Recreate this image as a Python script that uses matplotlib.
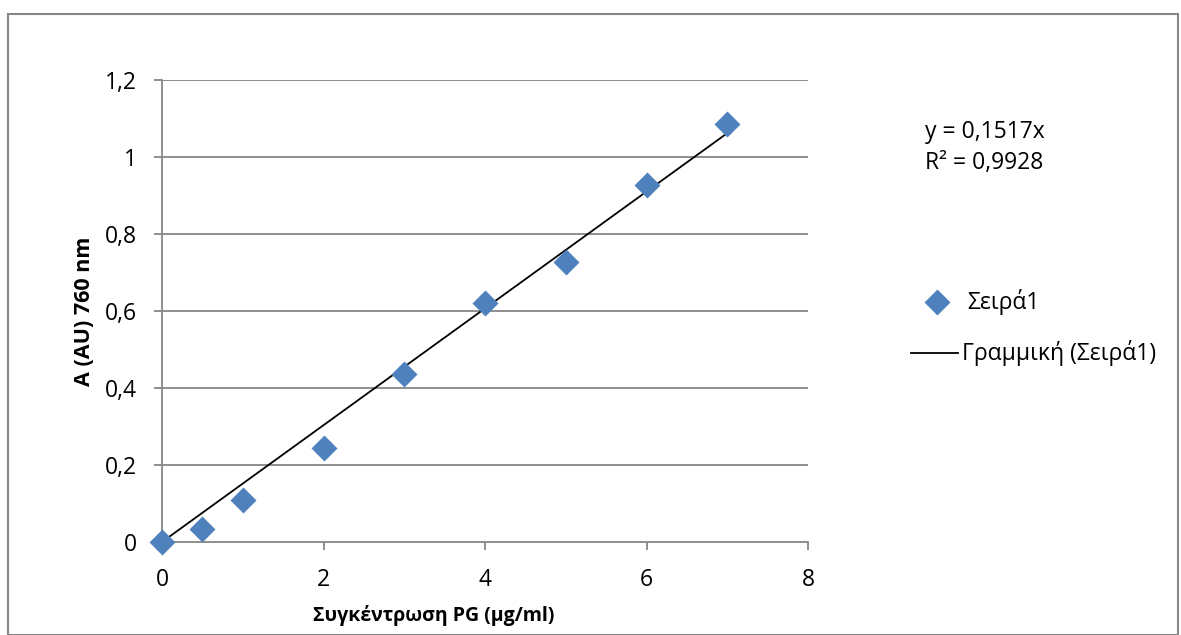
import matplotlib.pyplot as plt
import numpy as np
from matplotlib.patches import Rectangle
from matplotlib.lines import Line2D
from matplotlib.ticker import FuncFormatter

# data
conc = [0, 0.5, 1, 2, 3, 4, 5, 6, 7]
absorb = [0.0, 0.035, 0.11, 0.245, 0.437, 0.622, 0.728, 0.928, 1.085]
slope = 0.1517
r2 = 0.9928
xticks = [0, 2, 4, 6, 8]
yticks = [0, 0.2, 0.4, 0.6, 0.8, 1.0, 1.2]


def comma_num(v):
    return ('%g' % v).replace('.', ',')


plt.rcParams['font.family'] = ['Open Sans', 'DejaVu Sans']

W, H = 1181, 635
fig = plt.figure(figsize=(W / 100, H / 100), dpi=100)

# outer chart frame
fig.patches.append(Rectangle((8 / W, 0), (1178 - 8) / W, (H - 14) / H, transform=fig.transFigure,
                             fill=False, edgecolor='#868686', lw=1.5))

ax = fig.add_axes([162 / W, (H - 542) / H, (808 - 162) / W, (542 - 80) / H])
grid_c = '#868686'

for y in yticks[1:]:
    ax.axhline(y, color=grid_c, lw=1.3, zorder=0)

xfit = np.array([0, conc[-1]])
ax.plot(xfit, slope * xfit, color='black', lw=1.3, zorder=2)
ax.plot(conc, absorb, 'D', color='#4F81BD', ms=13, mec='none', zorder=3, clip_on=False)

ax.set_xlim(0, 8)
ax.set_ylim(0, 1.2)
ax.set_xticks(xticks)
ax.set_yticks(yticks)

comma = FuncFormatter(lambda v, p: comma_num(v))
ax.xaxis.set_major_formatter(comma)
ax.yaxis.set_major_formatter(comma)

for s in ['top', 'right']:
    ax.spines[s].set_visible(False)
for s in ['left', 'bottom']:
    ax.spines[s].set_color(grid_c)
    ax.spines[s].set_linewidth(1.3)

ax.tick_params(axis='both', colors=grid_c, labelcolor='black', labelsize=16.5, length=6, width=1.3)
ax.tick_params(axis='x', pad=13)
ax.tick_params(axis='y', pad=12)

ax.set_xlabel('Συγκέντρωση PG (μg/ml)', fontsize=14, fontweight='bold', va='center')
ax.xaxis.set_label_coords((434 - 162) / 646, (542 - 616) / 462)
ax.set_ylabel('A (AU) 760 nm', fontsize=15.5, fontweight='bold', va='center')
ax.yaxis.set_label_coords((85 - 162) / 646, 0.5)

fig.text(925 / W, 1 - 132 / H, 'y = ' + comma_num(slope) + 'x', fontsize=16.5, va='center', ha='left')
fig.text(925 / W, 1 - 163 / H, 'R² = ' + comma_num(r2), fontsize=16.5, va='center', ha='left')

# legend drawn by hand to match the Excel layout
fig.lines.append(Line2D([937 / W], [1 - 302 / H], marker='D', color='#4F81BD', ms=13, mec='none',
                        transform=fig.transFigure))
fig.text(967 / W, 1 - 302 / H, 'Σειρά1', fontsize=16.5, va='center', ha='left')
fig.lines.append(Line2D([911 / W, 958 / W], [1 - 353 / H, 1 - 353 / H], color='black', lw=1.3,
                        transform=fig.transFigure))
fig.text(962 / W, 1 - 353 / H, 'Γραμμική (Σειρά1)', fontsize=16.5, va='center', ha='left')

fig.savefig('out.png', dpi=100)
